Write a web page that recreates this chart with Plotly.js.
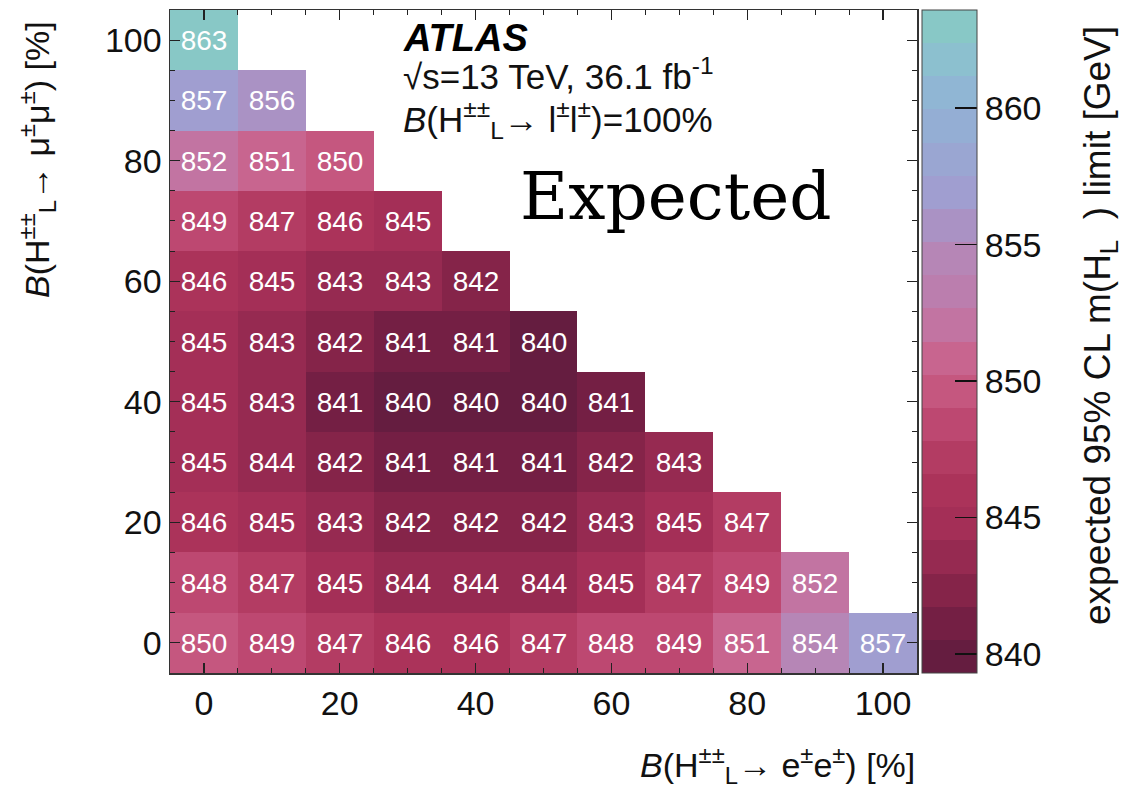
<!DOCTYPE html>
<html>
<head>
<meta charset="utf-8">
<script src="https://cdn.plot.ly/plotly-3.0.1.min.js"></script>
<style>
  html, body { margin: 0; padding: 0; background: #fff; }
  #chart { width: 1130px; height: 793px; }
</style>
</head>
<body>
<div id="chart"></div>
<script>
// Branching ratios (in %) on both axes
const eeBranching = [0, 10, 20, 30, 40, 50, 60, 70, 80, 90, 100];
const mumuBranching = [0, 10, 20, 30, 40, 50, 60, 70, 80, 90, 100];

// Expected mass limits [GeV], one row per B(mu mu) value, columns run over B(ee)
const limitsMuMu0   = [850, 849, 847, 846, 846, 847, 848, 849, 851, 854, 857];
const limitsMuMu10  = [848, 847, 845, 844, 844, 844, 845, 847, 849, 852];
const limitsMuMu20  = [846, 845, 843, 842, 842, 842, 843, 845, 847];
const limitsMuMu30  = [845, 844, 842, 841, 841, 841, 842, 843];
const limitsMuMu40  = [845, 843, 841, 840, 840, 840, 841];
const limitsMuMu50  = [845, 843, 842, 841, 841, 840];
const limitsMuMu60  = [846, 845, 843, 843, 842];
const limitsMuMu70  = [849, 847, 846, 845];
const limitsMuMu80  = [852, 851, 850];
const limitsMuMu90  = [857, 856];
const limitsMuMu100 = [863];

const colorTicks = [840, 845, 850, 855, 860];
const axisTicks = [0, 20, 40, 60, 80, 100];

// Palette: 20 discrete contour bands, lowest to highest
const bandColors = [
  '#651d40', '#741f44', '#852449', '#962a51', '#a42f57',
  '#ab335a', '#b33c63', '#bd4871', '#c5577f', '#c8658f',
  '#c274a2', '#bb7eae', '#b686b6', '#aa92c4', '#a09ed0',
  '#9aa6d2', '#94aed4', '#90b6d4', '#8cc0cf', '#88c8c6'
];
const zLow = 839.3, zHigh = 863.6;

// stepped colour scale built from the band list
const stepScale = [];
bandColors.forEach((c, i) => {
  stepScale.push([i / bandColors.length, c]);
  stepScale.push([(i + 1) / bandColors.length, c]);
});

const rows = [limitsMuMu0, limitsMuMu10, limitsMuMu20, limitsMuMu30, limitsMuMu40,
  limitsMuMu50, limitsMuMu60, limitsMuMu70, limitsMuMu80, limitsMuMu90, limitsMuMu100];
const zGrid = rows.map(r => eeBranching.map((_, j) => (j < r.length ? r[j] : null)));

const sans = 'Liberation Sans, Arial, Helvetica, sans-serif';

// plot area in pixels: x 170..917, y 10..673
const L = 170, R = 917, T = 10, B = 673;
const px = x => (x - L) / (R - L);
const py = y => (B - y) / (B - T);

const trace = {
  type: 'heatmap',
  x: eeBranching,
  y: mumuBranching,
  z: zGrid,
  zmin: zLow,
  zmax: zHigh,
  colorscale: stepScale,
  texttemplate: '%{z}',
  textfont: { family: sans, size: 28, color: '#ffffff' },
  hoverongaps: false,
  hoverinfo: 'skip',
  colorbar: {
    x: px(922), xanchor: 'left', xref: 'paper',
    y: 0.5, yanchor: 'middle',
    len: 1, lenmode: 'fraction',
    thickness: 55, thicknessmode: 'pixels',
    xpad: 0, ypad: 0,
    outlinewidth: 1, outlinecolor: '#444',
    tickvals: colorTicks,
    ticks: 'inside', ticklen: 22, tickwidth: 1.5, tickcolor: '#111',
    tickfont: { family: sans, size: 34, color: '#111' }
  }
};

const axisCommon = {
  range: [-5, 105],
  tickvals: axisTicks,
  ticks: 'inside', ticklen: 10, tickwidth: 1.2, tickcolor: '#222',
  minor: { dtick: 5, tick0: 0, ticks: 'inside', ticklen: 5, tickwidth: 1, tickcolor: '#222' },
  showline: true, linecolor: '#333', linewidth: 1.5, mirror: 'ticks',
  showgrid: false, zeroline: false,
  tickfont: { family: sans, size: 34, color: '#111' },
  fixedrange: true
};

const layout = {
  width: 1130, height: 793,
  margin: { l: L, r: 1130 - R, t: T, b: 793 - B },
  paper_bgcolor: '#ffffff',
  plot_bgcolor: '#ffffff',
  xaxis: Object.assign({}, axisCommon),
  yaxis: Object.assign({}, axisCommon),
  showlegend: false,
  annotations: [
    { text: '<b><i>ATLAS</i></b>', x: px(401), y: py(38), xref: 'paper', yref: 'paper',
      xanchor: 'left', yanchor: 'middle', showarrow: false,
      font: { family: sans, size: 38, color: '#000' } },
    { text: '\u221As=13 TeV, 36.1 fb<sup>-1</sup>', x: px(401), y: py(74), xref: 'paper', yref: 'paper',
      xanchor: 'left', yanchor: 'middle', showarrow: false,
      font: { family: sans, size: 35, color: '#111' } },
    { text: '<i>B</i>(H<sup>\u00b1\u00b1</sup><sub>L</sub>\u2192 l<sup>\u00b1</sup>l<sup>\u00b1</sup>)=100%',
      x: px(401), y: py(120), xref: 'paper', yref: 'paper',
      xanchor: 'left', yanchor: 'middle', showarrow: false,
      font: { family: sans, size: 35, color: '#111' } },
    { text: 'Expected', x: px(518), y: py(196), xref: 'paper', yref: 'paper',
      xanchor: 'left', yanchor: 'middle', showarrow: false,
      font: { family: 'DejaVu Serif, Liberation Serif, serif', size: 66, color: '#000' } },
    { text: '<i>B</i>(H<sup>\u00b1\u00b1</sup><sub>L</sub>\u2192 \u03bc<sup>\u00b1</sup>\u03bc<sup>\u00b1</sup>) [%]',
      x: px(37), y: py(160), xref: 'paper', yref: 'paper', textangle: -90,
      xanchor: 'center', yanchor: 'middle', showarrow: false,
      font: { family: sans, size: 34, color: '#111' } },
    { text: '<i>B</i>(H<sup>\u00b1\u00b1</sup><sub>L</sub>\u2192 e<sup>\u00b1</sup>e<sup>\u00b1</sup>) [%]',
      x: px(917), y: py(765), xref: 'paper', yref: 'paper',
      xanchor: 'right', yanchor: 'middle', showarrow: false,
      font: { family: sans, size: 34, color: '#111' } },
    // colour-axis title, rotated beside the scale
    { text: 'expected 95% CL m(H<sub>L</sub>\u00a0\u00a0) limit [GeV]',
      x: px(1100), y: py(326), xref: 'paper', yref: 'paper', textangle: -90,
      xanchor: 'center', yanchor: 'middle', showarrow: false,
      font: { family: sans, size: 37, color: '#111' } }
  ]
};

Plotly.newPlot('chart', [trace], layout, { displayModeBar: false, staticPlot: true });
</script>
</body>
</html>
